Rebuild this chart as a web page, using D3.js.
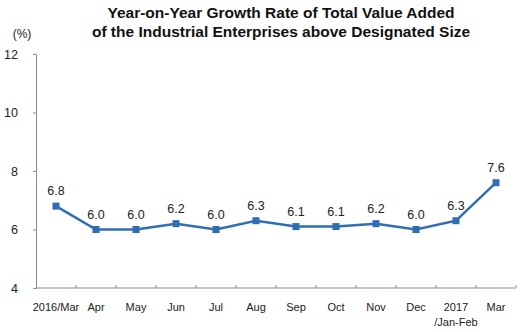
<!DOCTYPE html>
<html>
<head>
<meta charset="utf-8">
<script src="https://cdn.jsdelivr.net/npm/d3@7"></script>
<style>
  body { margin: 0; background: #fff; }
  text { font-family: "Liberation Sans", Arial, sans-serif; }
</style>
</head>
<body>
<div id="container"></div>
<script>
const months = ["2016/Mar", "Apr", "May", "Jun", "Jul", "Aug", "Sep", "Oct", "Nov", "Dec", "2017\n/Jan-Feb", "Mar"]
const growth = [6.8, 6.0, 6.0, 6.2, 6.0, 6.3, 6.1, 6.1, 6.2, 6.0, 6.3, 7.6]
const yTicks = [4, 6, 8, 10, 12]
const titleLines = ["Year-on-Year Growth Rate of Total Value Added", "of the Industrial Enterprises above Designated Size"]

const width = 526
const height = 332
const margin = {top: 54, bottom: 44, left: 36, right: 10}
const blue = "#2f6db5"
const axisColor = "#8c8c8c"

const svg = d3.select("#container").append("svg")
    .attr("width", width)
    .attr("height", height)

const x = d3.scaleBand()
    .domain(months)
    .range([margin.left, width - margin.right])

const y = d3.scaleLinear()
    .domain([4, 12])
    .range([height - margin.bottom, margin.top])

// title
svg.append("g").selectAll("text")
    .data(titleLines)
    .enter().append("text")
    .attr("x", 281)
    .attr("y", (d, i) => 18 + i * 19)
    .attr("text-anchor", "middle")
    .style("font-size", "15.5px")
    .style("font-weight", "bold")
    .style("fill", "#111")
    .text(d => d)

svg.append("text")
    .attr("x", 22)
    .attr("y", 38)
    .attr("text-anchor", "middle")
    .style("font-size", "12px")
    .style("fill", "#222")
    .text("(%)")

// y axis
const yAxis = svg.append("g")
    .attr("transform", `translate(${margin.left},0)`)
    .call(d3.axisLeft(y).tickValues(yTicks).tickSize(3).tickPadding(15))
yAxis.select(".domain").attr("stroke", axisColor)
yAxis.selectAll(".tick line").attr("stroke", axisColor)
yAxis.selectAll(".tick text")
    .style("font-size", "12.5px")
    .style("fill", "#222")

// x axis, ticks between categories pointing inward
const xAxis = svg.append("g")
    .attr("transform", `translate(0,${height - margin.bottom})`)
xAxis.append("line")
    .attr("x1", margin.left).attr("x2", width - margin.right)
    .attr("stroke", axisColor)
xAxis.selectAll(".sep")
    .data(months)
    .enter().append("line")
    .attr("class", "sep")
    .attr("x1", d => x(d) + x.bandwidth())
    .attr("x2", d => x(d) + x.bandwidth())
    .attr("y1", 0).attr("y2", -3)
    .attr("stroke", axisColor)

const xLabels = xAxis.selectAll(".lbl")
    .data(months)
    .enter().append("text")
    .attr("class", "lbl")
    .attr("x", d => x(d) + x.bandwidth() / 2)
    .attr("y", 23)
    .attr("text-anchor", "middle")
    .style("font-size", "11px")
    .style("fill", "#222")
xLabels.selectAll("tspan")
    .data(d => d.split("\n"))
    .enter().append("tspan")
    .attr("x", function() { return d3.select(this.parentNode).attr("x") })
    .attr("dy", (d, i) => i === 0 ? 0 : 15)
    .text(d => d)

// line and markers
const data = months.map((m, i) => ({month: m, value: growth[i]}))
const cx = d => x(d.month) + x.bandwidth() / 2

svg.append("path")
    .datum(data)
    .attr("fill", "none")
    .attr("stroke", blue)
    .attr("stroke-width", 2.5)
    .attr("d", d3.line().x(cx).y(d => y(d.value)))

svg.selectAll(".pt")
    .data(data)
    .enter().append("rect")
    .attr("class", "pt")
    .attr("x", d => cx(d) - 3.5)
    .attr("y", d => y(d.value) - 3.5)
    .attr("width", 7)
    .attr("height", 7)
    .attr("fill", blue)

svg.selectAll(".val")
    .data(data)
    .enter().append("text")
    .attr("class", "val")
    .attr("x", cx)
    .attr("y", d => y(d.value) - 11)
    .attr("text-anchor", "middle")
    .style("font-size", "12.5px")
    .style("fill", "#222")
    .text(d => d.value.toFixed(1))
</script>
</body>
</html>
